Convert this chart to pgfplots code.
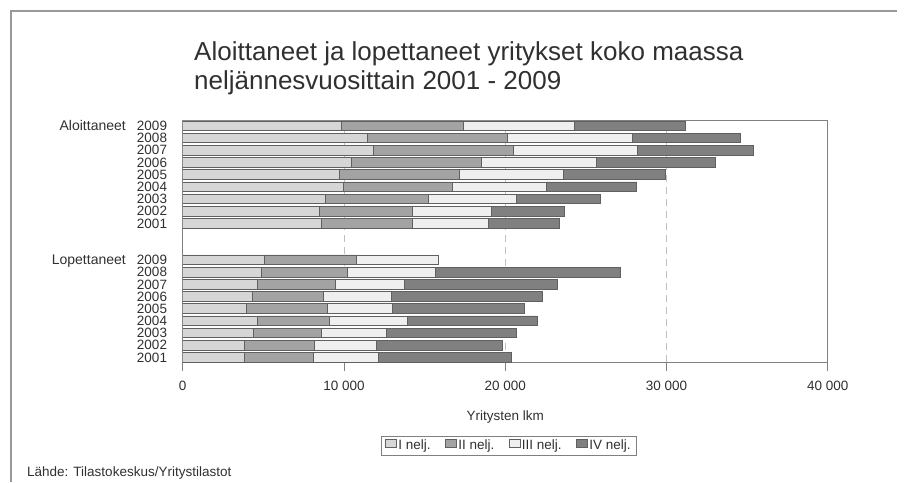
\documentclass[border=0pt]{standalone}
\usepackage{pgfplots}
\pgfplotsset{compat=1.18}
\usepackage{fontspec}
\setmainfont{Liberation Sans}
\definecolor{qa}{HTML}{D6D6D6}
\definecolor{qb}{HTML}{A3A3A3}
\definecolor{qc}{HTML}{EFEFEF}
\definecolor{qd}{HTML}{808080}
\definecolor{txt}{HTML}{303030}
\definecolor{edge}{HTML}{606060}
\begin{document}
\begin{tikzpicture}
\path[use as bounding box] (0pt,0pt) rectangle (904pt,482pt);
\draw[color=black!40, line width=1.2pt] (11pt,0pt) -- (11pt,471pt) -- (897pt,471pt);
\node[anchor=base west, font=\fontsize{26}{29}\selectfont, text=txt, inner sep=0pt] at (194pt,421pt) {Aloittaneet ja lopettaneet yritykset koko maassa};
\node[anchor=base west, font=\fontsize{26}{29}\selectfont, text=txt, inner sep=0pt] at (194pt,392pt) {neljännesvuosittain 2001 - 2009};
\node[anchor=east, font=\fontsize{14}{14}\selectfont, text=txt, inner sep=0pt, text height=10pt, text depth=0pt] at (126pt,356.3pt) {Aloittaneet};
\node[anchor=east, font=\fontsize{14}{14}\selectfont, text=txt, inner sep=0pt, text height=10pt, text depth=0pt] at (126pt,222.2pt) {Lopettaneet};
\node[anchor=west, font=\fontsize{13.5}{13.5}\selectfont, text=txt, inner sep=0pt, text height=9.7pt, text depth=0pt] at (27pt,10.3pt) {Lähde: Tilastokeskus/Yritystilastot};
\begin{axis}[
  at={(182.7pt,119.7pt)}, anchor=south west,
  width=645pt, height=242.3pt, scale only axis,
  xbar stacked, bar width=9.7pt,
  xmin=0, xmax=40000, ymin=-0.41, ymax=19.47,
  scaled x ticks=false,
  xtick={0,10000,20000,30000,40000},
  xticklabels={0,10 000,20 000,30 000,40 000},
  ytick={0,1,2,3,4,5,6,7,8,11,12,13,14,15,16,17,18,19},
  yticklabels={2001,2002,2003,2004,2005,2006,2007,2008,2009,2001,2002,2003,2004,2005,2006,2007,2008,2009},
  xtick pos=left, tick align=outside, major tick length=9pt,
  xtick style={color=black!50, line width=0.8pt},
  ytick style={draw=none},
  axis line style={color=black!50, line width=0.8pt},
  xmajorgrids,
  major grid style={dash pattern=on 7pt off 5pt, color=black!25, line width=0.8pt},
  x tick label style={font=\fontsize{13.5}{13.5}\selectfont, text=txt, anchor=center, inner sep=0pt, text height=9.7pt, text depth=0pt, yshift=-14.7pt},
  y tick label style={font=\fontsize{13.5}{13.5}\selectfont, text=txt, anchor=center, inner sep=0pt, text height=9.7pt, text depth=0pt, xshift=-21.7pt},
  xlabel={Yritysten lkm},
  xlabel style={font=\fontsize{13.5}{13.5}\selectfont, text=txt, inner sep=0pt, text height=9.7pt, text depth=0pt, anchor=center, at={(rel axis cs:0.5,-0.2216)}},
  legend columns=4,
  legend style={at={(rel axis cs:0.5055,-0.345)}, anchor=center, draw=black!50, line width=0.8pt,
    font=\fontsize{13.5}{13.5}\selectfont, text=txt, inner xsep=4pt, inner ysep=2pt,
    nodes={inner sep=1.5pt, text height=9.7pt, text depth=2pt},
    /tikz/every even column/.append style={column sep=13pt}},
  legend image code/.code={\draw[#1,line width=0.6pt] (0pt,-1pt) rectangle (11pt,7pt);},
  every axis plot/.append style={draw=edge, line width=0.6pt},
]
% I nelj.
\addplot[fill=qa] coordinates {
 (3810,0) (3810,1) (4350,2) (4630,3) (3930,4) (4300,5) (4630,6) (4880,7) (5090,8)
 (8570,11) (8490,12) (8840,13) (9940,14) (9730,15) (10450,16) (11800,17) (11470,18) (9810,19)};
% II nelj.
\addplot[fill=qb] coordinates {
 (4260,0) (4330,1) (4260,2) (4480,3) (5010,4) (4430,5) (4810,6) (5320,7) (5670,8)
 (5690,11) (5770,12) (6420,13) (6760,14) (7450,15) (8080,16) (8700,17) (8690,18) (7620,19)};
% III nelj.
\addplot[fill=qc] coordinates {
 (4080,0) (3890,1) (4020,2) (4800,3) (4040,4) (4210,5) (4310,6) (5470,7) (5120,8)
 (4680,11) (4890,12) (5420,13) (5870,14) (6400,15) (7120,16) (7700,17) (7730,18) (6870,19)};
% IV nelj.
\addplot[fill=qd] coordinates {
 (8220,0) (7790,1) (8050,2) (8050,3) (8220,4) (9380,5) (9480,6) (11450,7) (0,8)
 (4430,11) (4530,12) (5240,13) (5590,14) (6340,15) (7350,16) (7160,17) (6710,18) (6840,19)};
\legend{I nelj.,II nelj.,III nelj.,IV nelj.}
\end{axis}
\end{tikzpicture}
\end{document}
